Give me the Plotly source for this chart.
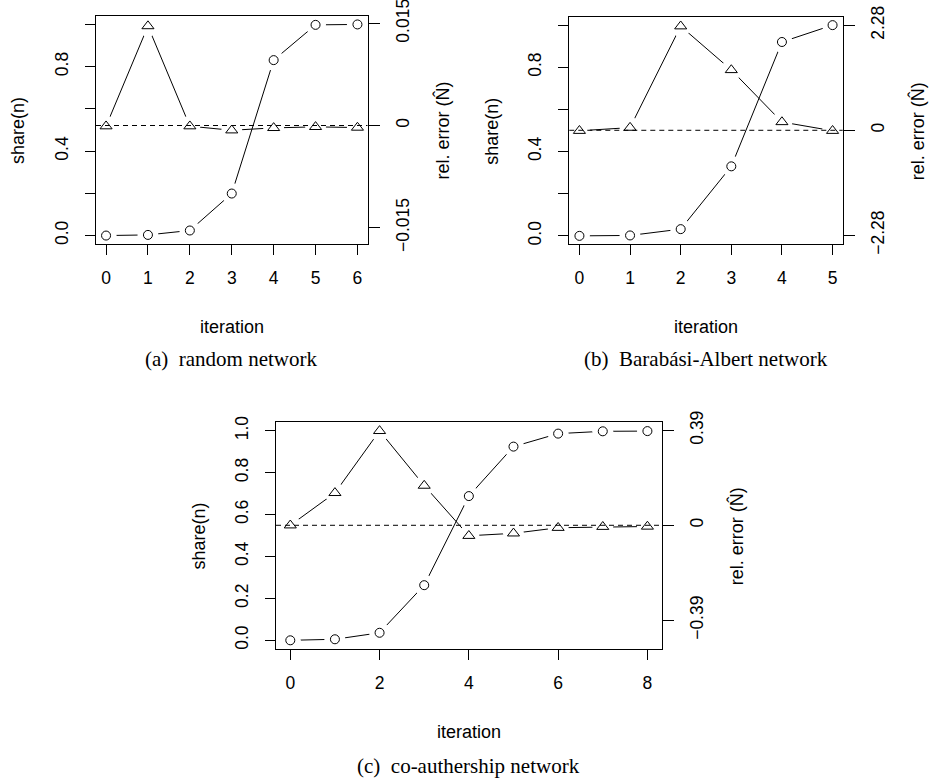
import plotly.graph_objects as go

# ---------------- data ----------------
iter_a = [0, 1, 2, 3, 4, 5, 6]
share_a = [0.0, 0.003, 0.024, 0.199, 0.831, 0.998, 1.0]
err_a = [-0.0001, 0.0146, -0.0001, -0.0007, -0.00035, -0.0002, -0.0003]

iter_b = [0, 1, 2, 3, 4, 5]
share_b = [0.0, 0.002, 0.032, 0.33, 0.92, 1.0]
err_b = [-0.01, 0.058, 2.26, 1.31, 0.18, -0.01]

iter_c = [0, 1, 2, 3, 4, 5, 6, 7, 8]
share_c = [0.0, 0.005, 0.036, 0.263, 0.688, 0.924, 0.986, 0.997, 0.998]
err_c = [0.0, 0.133, 0.3875, 0.163, -0.043, -0.033, -0.010, -0.006, -0.005]

share_ticks = [0.0, 0.2, 0.4, 0.6, 0.8, 1.0]
share_labels_ab = ["0.0", "", "0.4", "", "0.8", ""]
share_labels_c = ["0.0", "0.2", "0.4", "0.6", "0.8", "1.0"]

err_ticks_a = [-0.015, 0, 0.015]
err_labels_a = ["\u22120.015", "0", "0.015"]
err_ticks_b = [-2.28, 0, 2.28]
err_labels_b = ["\u22122.28", "0", "2.28"]
err_ticks_c = [-0.39, 0, 0.39]
err_labels_c = ["\u22120.39", "0", "0.39"]

x_ticks_a = [0, 1, 2, 3, 4, 5, 6]
x_ticks_b = [0, 1, 2, 3, 4, 5]
x_ticks_c = [0, 2, 4, 6, 8]

captions = ["(a)\u00a0 random network", "(b)\u00a0 Barab\u00e1si-Albert network",
            "(c)\u00a0 co-authership network"]

W, H = 936, 782
SANS = "Liberation Sans, Arial, Helvetica, sans-serif"
SERIF = "Liberation Serif, Times New Roman, serif"
TICKF = dict(family=SANS, size=17.5, color="black")
TITLEF = dict(family=SANS, size=18, color="black")


def px_x(p):
    return p / W


def px_y(p):
    return 1 - p / H


fig = go.Figure()

panels = [
    dict(x="x", y="y", y2="y2", xa="xaxis", ya="yaxis", ya2="yaxis2",
         box=(96, 367.5, 16, 244), xr=[-0.24, 6.24], y2r=[-0.0174, 0.01608],
         it=iter_a, sh=share_a, er=err_a, xt=x_ticks_a,
         sl=share_labels_ab, et=err_ticks_a, el=err_labels_a),
    dict(x="x2", y="y3", y2="y4", xa="xaxis2", ya="yaxis3", ya2="yaxis4",
         box=(569.3, 842.7, 16.7, 244.3), xr=[-0.2, 5.2], y2r=[-2.476, 2.467],
         it=iter_b, sh=share_b, er=err_b, xt=x_ticks_b,
         sl=share_labels_ab, et=err_ticks_b, el=err_labels_b),
    dict(x="x3", y="y5", y2="y6", xa="xaxis3", ya="yaxis5", ya2="yaxis6",
         box=(276, 661.7, 422.3, 648.7), xr=[-0.32, 8.32], y2r=[-0.5066, 0.4228],
         it=iter_c, sh=share_c, er=err_c, xt=x_ticks_c,
         sl=share_labels_c, et=err_ticks_c, el=err_labels_c),
]

layout = {}
annotations = []
shapes = []

for i, p in enumerate(panels):
    x0, x1, yt, yb = p["box"]
    # circle series (share) on left axis
    fig.add_trace(go.Scatter(x=p["it"], y=p["sh"], mode="lines", xaxis=p["x"], yaxis=p["y"],
                             line=dict(color="black", width=1), hoverinfo="skip"))
    fig.add_trace(go.Scatter(x=p["it"], y=p["sh"], mode="markers", xaxis=p["x"], yaxis=p["y"],
                             marker=dict(symbol="circle", size=21, color="white",
                                         line=dict(width=0)), hoverinfo="skip"))
    fig.add_trace(go.Scatter(x=p["it"], y=p["sh"], mode="markers", xaxis=p["x"], yaxis=p["y"],
                             marker=dict(symbol="circle-open", size=9, color="black",
                                         line=dict(width=1, color="black"))))
    # triangle series (relative error) on right axis
    fig.add_trace(go.Scatter(x=p["it"], y=p["er"], mode="lines", xaxis=p["x"], yaxis=p["y2"],
                             line=dict(color="black", width=1), hoverinfo="skip"))
    fig.add_trace(go.Scatter(x=p["it"], y=p["er"], mode="markers", xaxis=p["x"], yaxis=p["y2"],
                             marker=dict(symbol="circle", size=21, color="white",
                                         line=dict(width=0)), hoverinfo="skip"))
    fig.add_trace(go.Scatter(x=p["it"], y=p["er"], mode="markers", xaxis=p["x"], yaxis=p["y2"],
                             marker=dict(symbol="triangle-up-open", size=10.5, color="black",
                                         line=dict(width=1, color="black"))))

    layout[p["xa"]] = dict(domain=[px_x(x0), px_x(x1)], range=p["xr"], anchor=p["y"],
                           tickvals=p["xt"], ticktext=[str(v) for v in p["xt"]],
                           ticks="outside", ticklen=10, tickwidth=1, tickcolor="black",
                           ticklabelstandoff=8, automargin=False, ticklabeloverflow="allow",
                           showline=True, mirror=True, linecolor="black", linewidth=1,
                           showgrid=False, zeroline=False, tickfont=TICKF)
    layout[p["ya"]] = dict(domain=[px_y(yb), px_y(yt)], range=[-0.04, 1.04], anchor=p["x"],
                           tickvals=share_ticks, ticktext=p["sl"], tickangle=-90,
                           ticks="outside", ticklen=10, tickwidth=1, tickcolor="black",
                           ticklabelstandoff=10, automargin=False, ticklabeloverflow="allow",
                           showline=True, mirror=True, linecolor="black", linewidth=1,
                           showgrid=False, zeroline=False, tickfont=TICKF)
    layout[p["ya2"]] = dict(range=p["y2r"], overlaying=p["y"], side="right", anchor=p["x"],
                            tickvals=p["et"], ticktext=p["el"], tickangle=-90,
                            ticks="outside", ticklen=11, tickwidth=1, tickcolor="black",
                            ticklabelstandoff=8, automargin=False, ticklabeloverflow="allow",
                            showline=False, showgrid=False, zeroline=False, tickfont=TICKF)

    shapes.append(dict(type="line", xref=p["x"] + " domain", yref=p["y2"], x0=0, x1=1,
                       y0=0, y1=0, layer="above",
                       line=dict(color="black", width=1, dash="5px,4px")))

    cx = (x0 + x1) / 2
    cy = (yt + yb) / 2
    annotations.append(dict(text="iteration", x=px_x(cx), y=px_y(yb + 83), xref="paper",
                            yref="paper", showarrow=False, xanchor="center", yanchor="middle",
                            font=TITLEF))
    annotations.append(dict(text="share(n)", x=px_x(x0 - 78), y=px_y(cy + 1), xref="paper",
                            yref="paper", showarrow=False, xanchor="center", yanchor="middle",
                            textangle=-90, font=TITLEF))
    annotations.append(dict(text="rel. error (N\u0302)", x=px_x(x1 + 75), y=px_y(cy + 1),
                            xref="paper", yref="paper", showarrow=False, xanchor="center",
                            yanchor="middle", textangle=-90, font=TITLEF))
    cap_y = yb + 115 if i < 2 else yb + 117
    annotations.append(dict(text=captions[i], x=px_x(cx), y=px_y(cap_y), xref="paper",
                            yref="paper", showarrow=False, xanchor="center", yanchor="middle",
                            font=dict(family=SERIF, size=21, color="black")))

fig.update_layout(width=W, height=H, margin=dict(l=0, r=0, t=0, b=0),
                  paper_bgcolor="white", plot_bgcolor="white", showlegend=False,
                  annotations=annotations, shapes=shapes, **layout)

fig.write_html("out.html", config={"displayModeBar": False},
               post_script="document.body.style.margin='0';")
